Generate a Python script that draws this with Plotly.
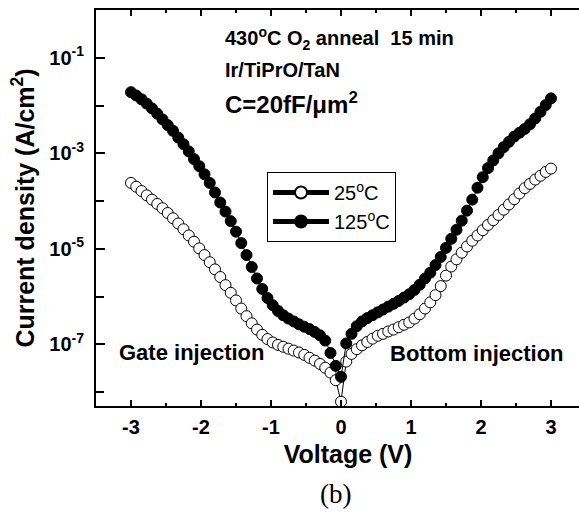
import plotly.graph_objects as go

# Voltage sweep (V)
voltage = [
    -3.000, -2.925, -2.850, -2.775, -2.700, -2.625, -2.550, -2.475, -2.400, -2.325,
    -2.250, -2.175, -2.100, -2.025, -1.950, -1.875, -1.800, -1.725, -1.650, -1.575,
    -1.500, -1.425, -1.350, -1.275, -1.200, -1.125, -1.050, -0.975, -0.900, -0.825,
    -0.750, -0.675, -0.600, -0.525, -0.450, -0.375, -0.300, -0.225, -0.150, -0.075,
    0.000,
    0.075, 0.150, 0.225, 0.300, 0.375, 0.450, 0.525, 0.600, 0.675, 0.750,
    0.825, 0.900, 0.975, 1.050, 1.125, 1.200, 1.275, 1.350, 1.425, 1.500,
    1.575, 1.650, 1.725, 1.800, 1.875, 1.950, 2.025, 2.100, 2.175, 2.250,
    2.325, 2.400, 2.475, 2.550, 2.625, 2.700, 2.775, 2.850, 2.925, 3.000,
]

# log10 of current density (A/cm^2)
log_j_25c = [
    -3.62, -3.70, -3.79, -3.88, -3.97, -4.06, -4.15, -4.25, -4.36, -4.47,
    -4.59, -4.72, -4.85, -4.99, -5.13, -5.28, -5.43, -5.59, -5.76, -5.92,
    -6.08, -6.25, -6.41, -6.56, -6.69, -6.80, -6.89, -6.96, -7.01, -7.05,
    -7.09, -7.13, -7.17, -7.22, -7.28, -7.34, -7.41, -7.49, -7.59, -7.75,
    -8.20,
    -7.36, -7.20, -7.10, -7.02, -6.95, -6.88, -6.82, -6.78, -6.73, -6.69,
    -6.64, -6.59, -6.54, -6.46, -6.37, -6.25, -6.12, -5.97, -5.78, -5.56,
    -5.37, -5.22, -5.08, -4.95, -4.83, -4.72, -4.61, -4.50, -4.40, -4.29,
    -4.18, -4.07, -3.96, -3.84, -3.73, -3.64, -3.55, -3.47, -3.39, -3.32,
]

log_j_125c = [
    -1.72, -1.79, -1.87, -1.96, -2.06, -2.17, -2.29, -2.41, -2.53, -2.67,
    -2.81, -2.96, -3.12, -3.27, -3.44, -3.62, -3.82, -4.03, -4.22, -4.42,
    -4.64, -4.88, -5.13, -5.38, -5.62, -5.84, -6.03, -6.18, -6.30, -6.39,
    -6.46, -6.52, -6.58, -6.63, -6.68, -6.74, -6.81, -6.92, -7.18, -7.45,
    -7.68,
    -6.98, -6.78, -6.62, -6.52, -6.45, -6.39, -6.33, -6.27, -6.21, -6.15,
    -6.09, -6.02, -5.95, -5.86, -5.75, -5.62, -5.50, -5.34, -5.17, -4.98,
    -4.79, -4.60, -4.41, -4.20, -3.97, -3.72, -3.50, -3.31, -3.15, -3.00,
    -2.87, -2.76, -2.65, -2.57, -2.49, -2.39, -2.27, -2.13, -1.99, -1.85,
]

series_names = ["25<sup>o</sup>C", "125<sup>o</sup>C"]

y_tickvals = [1e-1, 1e-3, 1e-5, 1e-7]
y_ticktext = ["10<sup>-1</sup>", "10<sup>-3</sup>", "10<sup>-5</sup>", "10<sup>-7</sup>"]
y_minorvals = [1e-2, 1e-4, 1e-6, 1e-8]
x_tickvals = [-3, -2, -1, 0, 1, 2, 3]
x_ticktext = ["-3", "-2", "-1", "0", "1", "2", "3"]

j_25c = [10 ** e for e in log_j_25c]
j_125c = [10 ** e for e in log_j_125c]

SANS = "Liberation Sans"
FIG_W = 600  # wider than the 579 px window so the frame's right edge is cropped, as in the reference
PLOT_W = FIG_W - 96

fig = go.Figure()
fig.add_trace(go.Scatter(
    x=voltage, y=j_25c, name=series_names[0], mode="lines+markers",
    line=dict(color="black", width=1),
    marker=dict(symbol="circle", size=11, color="white", line=dict(color="black", width=1)),
))
fig.add_trace(go.Scatter(
    x=voltage, y=j_125c, name=series_names[1], mode="lines+markers",
    line=dict(color="black", width=1),
    marker=dict(symbol="circle", size=11, color="black", line=dict(color="black", width=1)),
))

fig.update_layout(
    width=FIG_W, height=514,
    margin=dict(l=96, r=0, t=10, b=108),
    paper_bgcolor="white", plot_bgcolor="white",
    font=dict(family=SANS, color="black"),
    showlegend=True,
    legend=dict(
        x=(267 - 96) / PLOT_W, y=0.591, xanchor="left", yanchor="top",
        bordercolor="black", borderwidth=1, bgcolor="white",
        font=dict(family=SANS, size=20, color="black"),
        itemsizing="constant", itemwidth=56,
    ),
    xaxis=dict(
        range=[-3.5, -3.5 + PLOT_W / 70.0], tickvals=x_tickvals, ticktext=x_ticktext,
        ticks="inside", ticklen=6, tickwidth=2, tickcolor="black",
        minor=dict(dtick=0.5, ticks="inside", ticklen=3, tickwidth=2, tickcolor="black"),
        showline=True, linewidth=2, linecolor="black", mirror="ticks",
        showgrid=False, zeroline=False,
        tickfont=dict(family=SANS, size=20, weight="bold"),
        ticklabelstandoff=2,
        title=dict(text="Voltage (V)", font=dict(family=SANS, size=25, weight="bold"), standoff=8),
    ),
    yaxis=dict(
        type="log", range=[-8.29, 0],
        tickvals=y_tickvals, ticktext=y_ticktext,
        ticks="inside", ticklen=9, tickwidth=2, tickcolor="black",
        minor=dict(tickvals=y_minorvals, ticks="inside", ticklen=8, tickwidth=2, tickcolor="black"),
        showline=True, linewidth=2, linecolor="black", mirror=False,
        showgrid=False, zeroline=False,
        tickfont=dict(family=SANS, size=20, weight="bold"),
        ticklabelstandoff=6,
        title=dict(text="Current density (A/cm<sup>2</sup>)", font=dict(family=SANS, size=25, weight="bold"), standoff=8),
    ),
)

fig.add_annotation(x=-1.69, y=-0.59, xref="x", yref="y", xanchor="left", yanchor="middle",
                   text="430<sup>o</sup>C O<sub>2</sub> anneal  15 min", showarrow=False,
                   font=dict(family=SANS, size=20, weight="bold"))
fig.add_annotation(x=-1.69, y=-1.26, xref="x", yref="y", xanchor="left", yanchor="middle",
                   text="Ir/TiPrO/TaN", showarrow=False,
                   font=dict(family=SANS, size=20, weight="bold"))
fig.add_annotation(x=-1.69, y=-1.95, xref="x", yref="y", xanchor="left", yanchor="middle",
                   text="C=20fF/\u03bcm<sup>2</sup>", showarrow=False,
                   font=dict(family=SANS, size=24, weight="bold"))
fig.add_annotation(x=-2.13, y=-7.16, xref="x", yref="y", xanchor="center", yanchor="middle",
                   text="Gate injection", showarrow=False,
                   font=dict(family=SANS, size=22, weight="bold"))
fig.add_annotation(x=1.94, y=-7.2, xref="x", yref="y", xanchor="center", yanchor="middle",
                   text="Bottom injection", showarrow=False,
                   font=dict(family=SANS, size=22, weight="bold"))
fig.add_annotation(x=(335 - 96) / PLOT_W, y=-(494 - 406) / 396, xref="paper", yref="paper",
                   xanchor="center", yanchor="middle", text="(b)", showarrow=False,
                   font=dict(family="Liberation Serif", size=27))

fig.write_html(
    "out.html",
    config={"displayModeBar": False},
    post_script="document.body.style.margin='0';document.body.style.overflow='hidden';",
)
